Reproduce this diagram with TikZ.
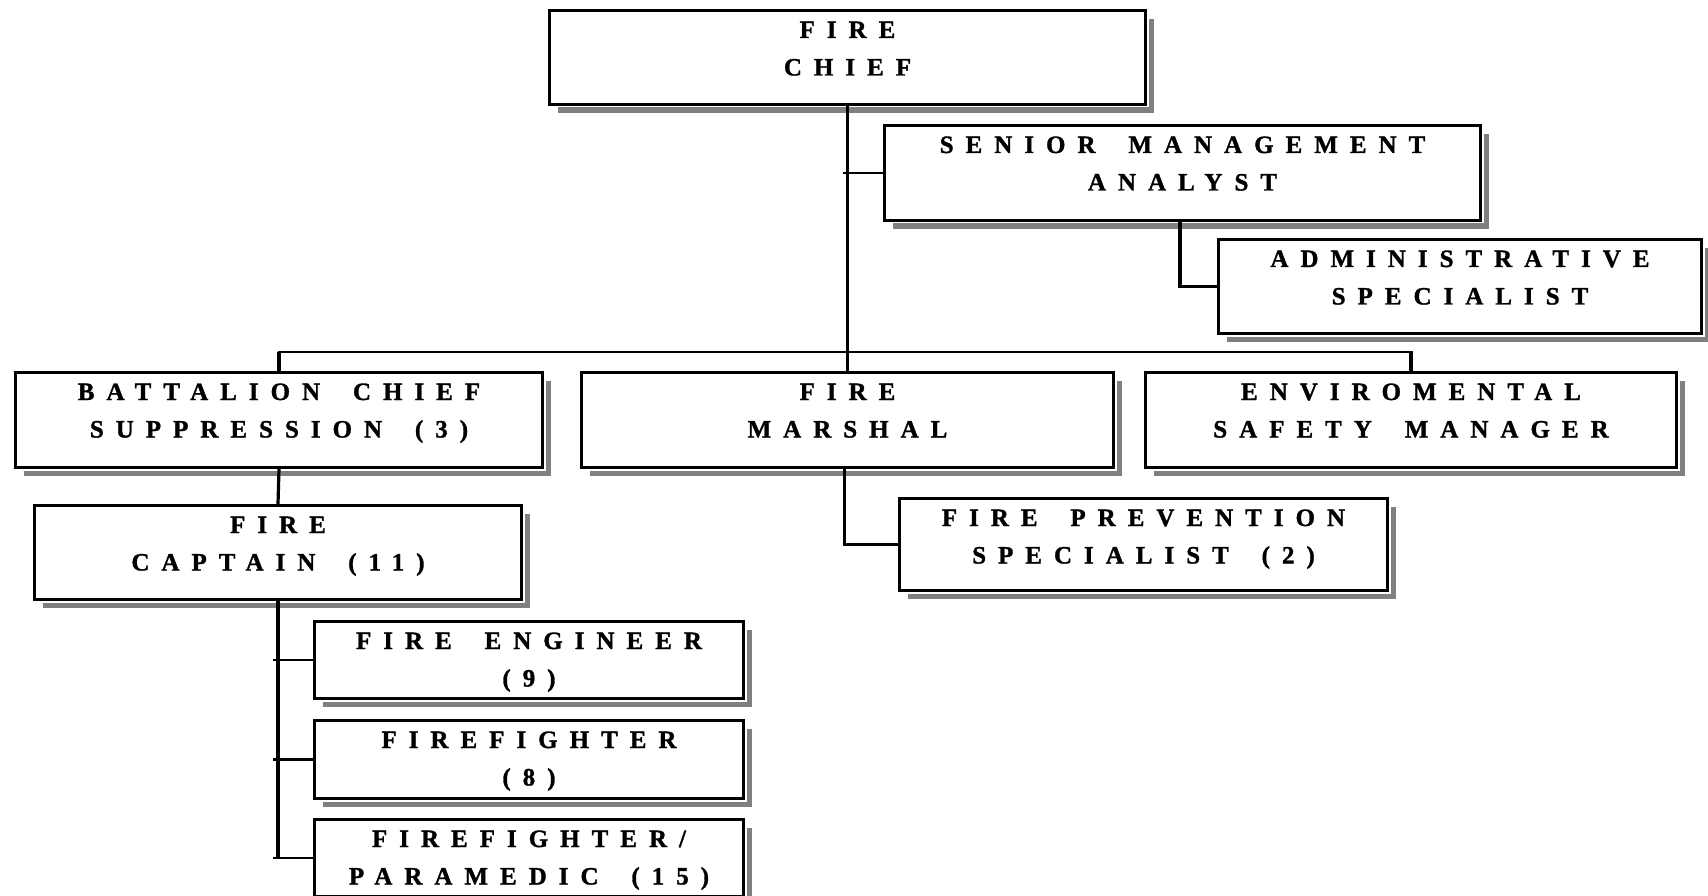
\documentclass[tikz,border=0pt]{standalone}
\usepackage{fontspec}
\usetikzlibrary{shadows,calc}
\newfontfamily\orgfont{Liberation Serif Bold}[LetterSpace=48,WordSpace=1.8,FakeBold=1.2]
\tikzset{
  obox/.style={draw=black, line width=3pt, fill=white, inner sep=0pt,
    general shadow={fill=black!50, shadow xshift=8.5pt, shadow yshift=-8.5pt},
    preaction={draw=white, line width=6pt},
    font=\orgfont\fontsize{25}{37.5}\selectfont},
  vconn/.style={line width=3.2pt},
  hconn/.style={line width=2.2pt}
}
\newcommand\orgbox[7]{%
  \node[obox, anchor=north west] (#1) at (#2,#3)
    {\parbox[t][#5pt][t]{#4pt}{\centering\vspace*{10.5pt}\rule{0pt}{17pt}#6\\#7\par}};}
\begin{document}
\begin{tikzpicture}[x=1pt,y=-1pt]
\useasboundingbox (0,0) rectangle (1708,896);
\orgbox{chief}{548}{9}{596}{94}{FIRE}{CHIEF}
\orgbox{sma}{883}{124}{596}{95}{SENIOR MANAGEMENT}{ANALYST}
\orgbox{adm}{1217}{238}{483}{94}{ADMINISTRATIVE}{SPECIALIST}
\orgbox{bat}{14}{371}{527}{95}{BATTALION CHIEF}{SUPPRESSION (3)}
\orgbox{mar}{580}{371}{532}{95}{FIRE}{MARSHAL}
\orgbox{env}{1144}{371}{531}{95}{ENVIROMENTAL}{SAFETY MANAGER}
\orgbox{fps}{898}{497}{488}{92}{FIRE PREVENTION}{SPECIALIST (2)}
\orgbox{cap}{33}{504}{487}{94}{FIRE}{CAPTAIN (11)}
\orgbox{fe}{313}{620}{429}{77}{FIRE ENGINEER}{(9)}
\orgbox{ff}{313}{719}{429}{78}{FIREFIGHTER}{(8)}
\orgbox{ffp}{313}{818}{429}{77}{FIREFIGHTER/}{PARAMEDIC (15)}
\coordinate (bus) at (846,352);
% chief to bus and marshal
\draw[vconn] (chief.south) -- (chief.south |- mar.north);
\draw[hconn] ($(chief.south |- sma.west)+(-5,0)$) -- (sma.west);
% senior management to admin
\draw[vconn] (sma.south -| 1180,0) -- ($(1180,0 |- adm.west)+(0,1)$);
\draw[hconn] (1180,0 |- adm.west) -- (adm.west);
% bus
\draw[hconn] ($(bat.north |- bus)+(-1.5,0)$) -- ($(env.north |- bus)+(1.5,0)$);
\draw[vconn] (bat.north |- bus) -- (bat.north);
\draw[vconn] (env.north |- bus) -- (env.north);
% battalion to captain
\draw[vconn] (bat.south) -- (cap.north);
% captain to crews
\draw[vconn] (cap.south) -- ($(cap.south |- ffp.west)+(0,1)$);
\draw[hconn] ($(cap.south |- fe.west)+(-5,0)$) -- (fe.west);
\draw[hconn] ($(cap.south |- ff.west)+(-5,0)$) -- (ff.west);
\draw[hconn] ($(cap.south |- ffp.west)+(-5,0)$) -- (ffp.west);
% marshal to prevention
\draw[vconn] ($(mar.south)+(-3,0)$) -- ($(mar.south |- fps.west)+(-3,1)$);
\draw[hconn] ($(mar.south |- fps.west)+(-5,0)$) -- (fps.west);
\end{tikzpicture}
\end{document}
